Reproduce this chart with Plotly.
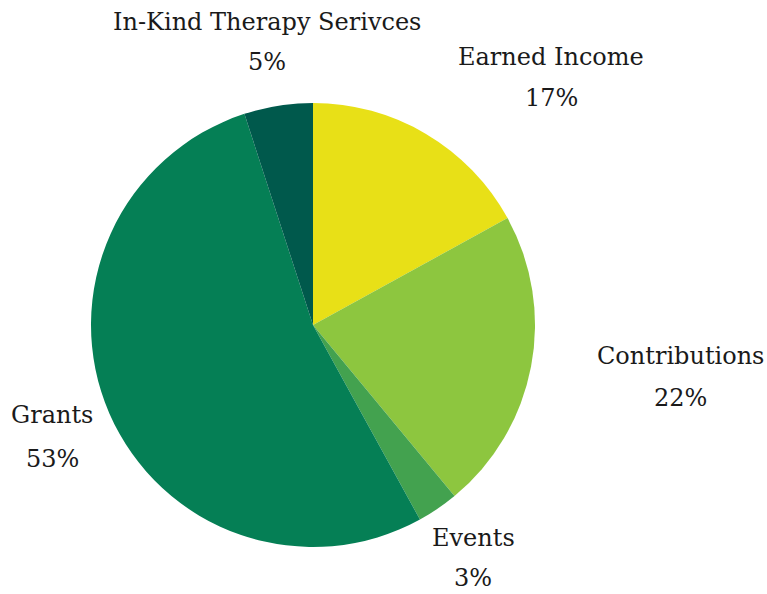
import plotly.graph_objects as go

labels = ["Earned Income", "Contributions", "Events", "Grants", "In-Kind Therapy Serivces"]
values = [17, 22, 3, 53, 5]
colors = ["#E8E017", "#8DC63F", "#43A24F", "#057F55", "#00594C"]

W, H = 767, 594
# label centres in pixels (name line, percent line)
label_pos = {
    "Earned Income": (551, 57, 98),
    "Contributions": (680, 356, 398),
    "Events": (473, 538, 578),
    "Grants": (52, 415, 459),
    "In-Kind Therapy Serivces": (267, 22, 62),
}

cx, cy, r = 313, 325, 222
fig = go.Figure(go.Pie(
    labels=labels, values=values, sort=False, direction="clockwise", rotation=0,
    marker=dict(colors=colors, line=dict(width=0)),
    textinfo="none", hoverinfo="label+percent", showlegend=False,
    domain=dict(x=[(cx - r) / W, (cx + r) / W], y=[(H - cy - r) / H, (H - cy + r) / H]),
))

font = dict(family="DejaVu Serif, serif", size=24, color="#1a1a1a")
total = sum(values)
for lab, v in zip(labels, values):
    x, y1, y2 = label_pos[lab]
    fig.add_annotation(x=x / W, y=1 - y1 / H, xref="paper", yref="paper", text=lab,
                       showarrow=False, font=font, xanchor="center", yanchor="middle")
    fig.add_annotation(x=x / W, y=1 - y2 / H, xref="paper", yref="paper",
                       text=f"{round(v / total * 100)}%",
                       showarrow=False, font=font, xanchor="center", yanchor="middle")

fig.update_layout(width=W, height=H, margin=dict(l=0, r=0, t=0, b=0),
                  paper_bgcolor="white", plot_bgcolor="white")
fig.write_html("out.html")
